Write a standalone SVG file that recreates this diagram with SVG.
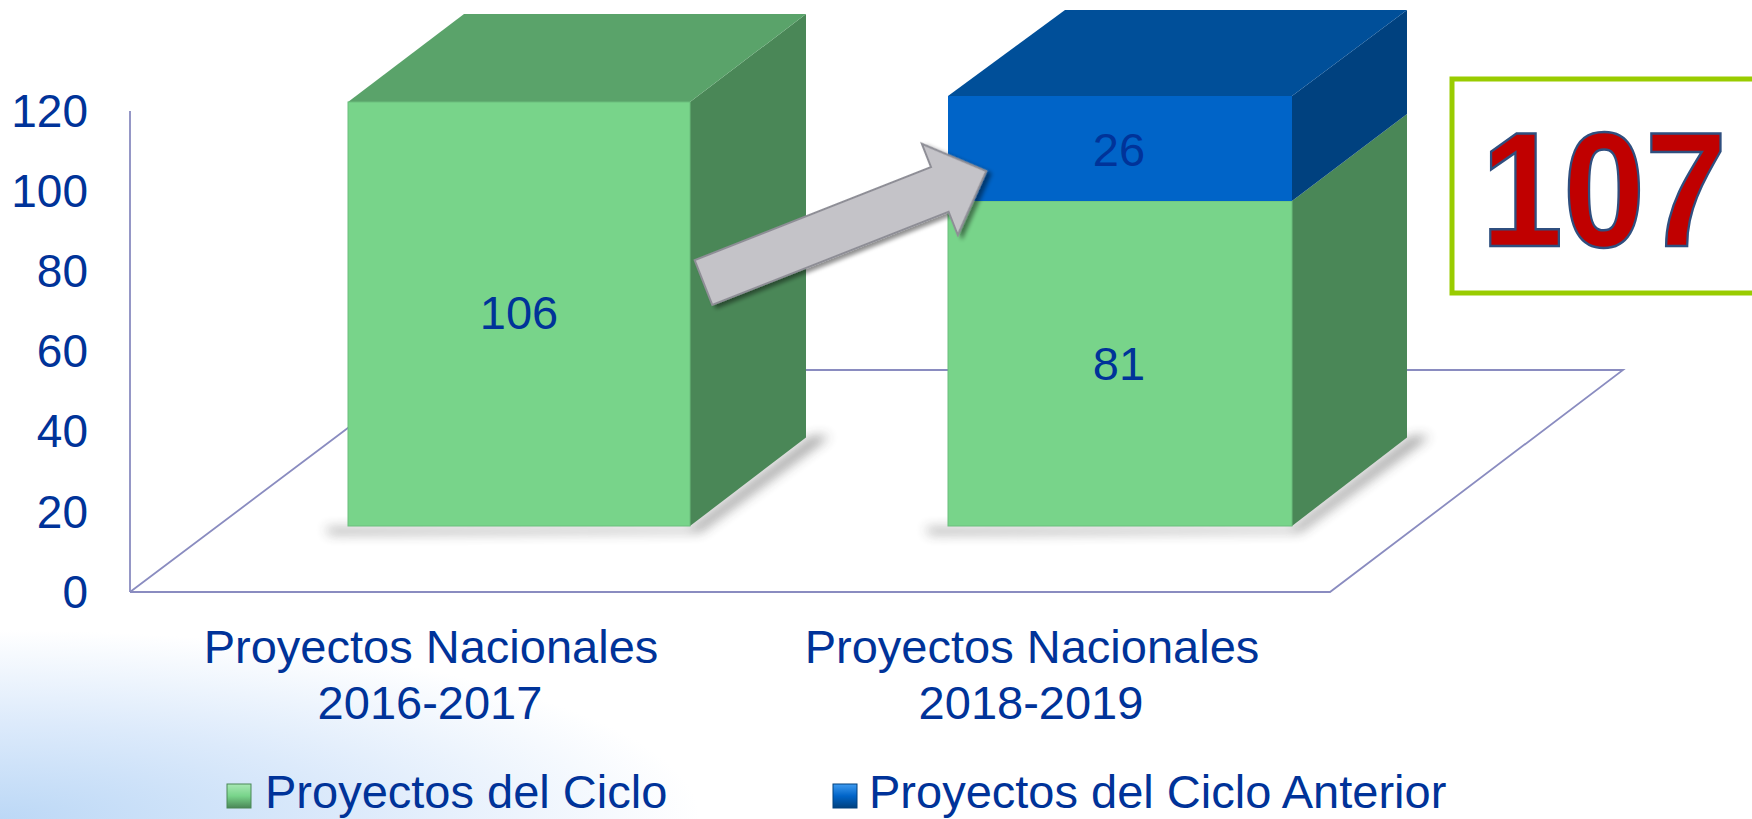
<svg xmlns="http://www.w3.org/2000/svg" width="1752" height="819" viewBox="0 0 1752 819">
<defs>
<style>
.lbl{font-family:"Liberation Sans",Arial,sans-serif;font-size:47px;fill:#003399}
.ax{font-family:"Liberation Sans",Arial,sans-serif;font-size:46px;fill:#003399;text-anchor:end}
.mid{text-anchor:middle}
.axis{stroke:#8A8CC0;stroke-width:1.8;fill:none}
.gfront{fill:#78D48A;stroke:#6BBE7C;stroke-width:1}
.gtop{fill:#5AA36A}
.gside{fill:#4A8757}
.bfront{fill:#0064C8}
.btop{fill:#004F99}
.bside{fill:#00417F}
</style>
<radialGradient id="bg" cx="0" cy="819" r="700" gradientUnits="userSpaceOnUse" gradientTransform="translate(0,819) scale(1,0.27) translate(0,-819)">
<stop offset="0" stop-color="#BCD8F6"/>
<stop offset="0.5" stop-color="#DCEAFB"/>
<stop offset="1" stop-color="#FFFFFF"/>
</radialGradient>
<linearGradient id="lg" x1="0" y1="0" x2="0" y2="1">
<stop offset="0" stop-color="#A8E8B4"/>
<stop offset="0.5" stop-color="#78D48A"/>
<stop offset="1" stop-color="#4A8757"/>
</linearGradient>
<linearGradient id="lb" x1="0" y1="0" x2="0" y2="1">
<stop offset="0" stop-color="#3F9BF0"/>
<stop offset="0.5" stop-color="#0064C8"/>
<stop offset="1" stop-color="#00417F"/>
</linearGradient>
<filter id="blur" x="-20%" y="-50%" width="140%" height="200%"><feGaussianBlur stdDeviation="6"/></filter>
<filter id="ashadow" x="-10%" y="-30%" width="130%" height="160%">
<feGaussianBlur in="SourceAlpha" stdDeviation="2"/>
<feOffset dx="3" dy="4" result="o"/>
<feComponentTransfer><feFuncA type="linear" slope="0.45"/></feComponentTransfer>
<feMerge><feMergeNode/><feMergeNode in="SourceGraphic"/></feMerge>
</filter>
</defs>
<rect width="1752" height="819" fill="#FFFFFF"/>
<rect width="1752" height="819" fill="url(#bg)"/>

<g id="axes">
<line class="axis" x1="130" y1="111" x2="130" y2="592"/>
<polyline class="axis" points="130,592 425,370 1623,370 1330,592 130,592"/>
<text class="ax" x="88" y="127">120</text>
<text class="ax" x="88" y="207">100</text>
<text class="ax" x="88" y="287">80</text>
<text class="ax" x="88" y="367">60</text>
<text class="ax" x="88" y="447">40</text>
<text class="ax" x="88" y="528">20</text>
<text class="ax" x="88" y="608">0</text>
</g>

<g id="bar1">
<polygon points="325,528 690,528 812,436 830,436 700,532 330,534" fill="#333" opacity="0.45" filter="url(#blur)"/>
<polygon class="gside" points="690,102 806,14 806,437.5 690,526"/>
<polygon class="gtop" points="348,102 464,14 806,14 690,102"/>
<rect class="gfront" x="348" y="102" width="342" height="424"/>
<text class="lbl mid" x="519" y="329">106</text>
</g>

<g id="bar2">
<polygon points="925,528 1292,528 1412,436 1430,436 1300,532 930,534" fill="#333" opacity="0.45" filter="url(#blur)"/>
<polygon class="gside" points="1292,201 1407,114 1407,437.5 1292,526"/>
<polygon class="bside" points="1292,96 1407,10 1407,114 1292,201"/>
<polygon class="btop" points="948,96 1065,10 1407,10 1292,96"/>
<rect class="gfront" x="948" y="201" width="344" height="325"/>
<rect class="bfront" x="948" y="96" width="344" height="105"/>
<text class="lbl mid" x="1119" y="380">81</text>
<text class="lbl mid" x="1119" y="166">26</text>
</g>

<g id="connectors">
<path transform="translate(703.5,282.5) rotate(-21.5)" d="M0,-24 L254,-24 L254,-49 L304,0 L254,49 L254,24 L0,24 Z" fill="#C4C3C8" stroke="#8E8E96" stroke-width="2" filter="url(#ashadow)"/>
</g>

<g id="total">
<rect x="1452" y="79" width="320" height="214" fill="#FFFFFF" stroke="#99CC00" stroke-width="5"/>
<text x="1604" y="246" text-anchor="middle" textLength="246" lengthAdjust="spacingAndGlyphs" font-family="'Liberation Sans',Arial,sans-serif" font-weight="bold" font-size="163" fill="#C00000" stroke="#2F4F7F" stroke-width="2.5">107</text>
</g>

<g id="categories">
<text class="lbl mid" x="431" y="663">Proyectos Nacionales</text>
<text class="lbl mid" x="430" y="719">2016-2017</text>
<text class="lbl mid" x="1032" y="663">Proyectos Nacionales</text>
<text class="lbl mid" x="1031" y="719">2018-2019</text>
</g>

<g id="legend">
<rect x="227" y="784" width="24" height="24" fill="url(#lg)" stroke="#4A8757" stroke-width="1"/>
<text class="lbl" x="265" y="808">Proyectos del Ciclo</text>
<rect x="833" y="784" width="24" height="24" fill="url(#lb)" stroke="#00417F" stroke-width="1"/>
<text class="lbl" x="869" y="808">Proyectos del Ciclo Anterior</text>
</g>
</svg>
